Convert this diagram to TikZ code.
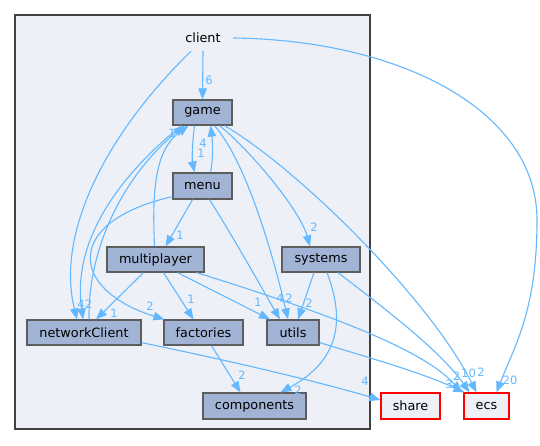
\documentclass[tikz,border=0pt]{standalone}
\usepackage{fontspec}
\setmainfont{DejaVu Sans}
\usetikzlibrary{arrows.meta}
\definecolor{edgec}{HTML}{63B8FF}
\definecolor{nodefill}{HTML}{A2B4D6}
\definecolor{clusterfill}{HTML}{EDF0F7}
\definecolor{borderc}{HTML}{404040}
\tikzset{
  dirbox/.style={draw=borderc!85!white, line width=1.2pt, fill=nodefill, inner sep=0pt,
    font=\fontsize{12.8}{14}\selectfont, text=black},
  extbox/.style={draw=red, line width=1.2pt, fill=clusterfill, inner sep=0pt,
    font=\fontsize{12.8}{14}\selectfont, text=black},
  edge/.style={draw=edgec, line width=1.1pt, -{Triangle[length=11pt,width=8.5pt]}},
  lab/.style={text=edgec, inner sep=0pt, font=\fontsize{11.5}{11.5}\selectfont}
}
\begin{document}
\begin{tikzpicture}[x=1pt,y=-1pt]
\useasboundingbox (0,0) rectangle (540,445);
\fill[white] (0,0) rectangle (540,445);
\draw[line width=2pt, draw=borderc, fill=clusterfill] (15,15) rectangle (370,429);

% nodes
\node[inner sep=0pt, minimum width=60pt, minimum height=26pt, font=\fontsize{12.8}{14}\selectfont] (client) at (203,38) {client};
\node[dirbox, minimum width=59pt, minimum height=25pt] (game) at (202.5,112.5) {game};
\node[dirbox, minimum width=59pt, minimum height=26pt] (menu) at (202.5,186) {menu};
\node[dirbox, minimum width=97pt, minimum height=25pt] (multiplayer) at (155.5,259.5) {multiplayer};
\node[dirbox, minimum width=78pt, minimum height=25pt] (systems) at (321,259.5) {systems};
\node[dirbox, minimum width=114pt, minimum height=25pt] (networkClient) at (84,332.5) {networkClient};
\node[dirbox, minimum width=79pt, minimum height=25pt] (factories) at (203.5,332.5) {factories};
\node[dirbox, minimum width=52pt, minimum height=25pt] (utils) at (293,332.5) {utils};
\node[dirbox, minimum width=103pt, minimum height=26pt] (components) at (254.5,406) {components};
\node[extbox, minimum width=59pt, minimum height=26pt] (share) at (410.5,406) {share};
\node[extbox, minimum width=45pt, minimum height=26pt] (ecs) at (486.5,406) {ecs};

% edges
\draw[edge] (client.south) -- (game.north);
\draw[edge] ([xshift=-12pt]client.south) .. controls (110,130) and (55,230) .. ([xshift=-7pt]networkClient.north);
\draw[edge] ([xshift=-21pt]game.south) .. controls (120,175) and (72,240) .. ([xshift=-1pt]networkClient.north);
\draw[edge] ([xshift=5pt]networkClient.north) .. controls (88,240) and (130,170) .. ([xshift=-18pt]game.south);
\draw[edge] ([xshift=-1pt]multiplayer.north) .. controls (152,190) and (155,150) .. ([xshift=-14pt]game.south);
\draw[edge] ([xshift=-8pt]game.south) .. controls (192,145) and (192,160) .. ([xshift=-8pt]menu.north);
\draw[edge] ([xshift=8pt]menu.north) .. controls (213,160) and (213,145) .. ([xshift=8pt]game.south);
\draw[edge] ([xshift=-10pt]menu.south) -- ([xshift=10pt]multiplayer.north);
\draw[edge] ([yshift=3pt]menu.south west) .. controls (62,222) and (70,290) .. ([xshift=1pt]factories.north west);
\draw[edge] ([xshift=7pt]menu.south) .. controls (235,240) and (260,285) .. ([xshift=-13pt]utils.north);
\draw[edge] ([xshift=12pt]game.south) .. controls (245,160) and (272,250) .. ([xshift=-5pt]utils.north);
\draw[edge] ([xshift=17pt]game.south) .. controls (250,150) and (300,210) .. ([xshift=-11pt]systems.north);
\draw[edge] ([xshift=22pt]game.south) .. controls (300,170) and (430,300) .. ([xshift=-10pt]ecs.north);
\draw[edge] ([xshift=-12pt]multiplayer.south) -- ([xshift=12pt]networkClient.north);
\draw[edge] ([xshift=8pt]multiplayer.south) -- ([xshift=-10pt]factories.north);
\draw[edge] ([xshift=22pt]multiplayer.south) -- ([xshift=-23pt]utils.north);
\draw[edge] ([xshift=-8pt]multiplayer.south east) .. controls (300,305) and (420,345) .. ([xshift=-25pt]ecs.north);
\draw[edge] ([xshift=-7pt]systems.south) -- ([xshift=5pt]utils.north);
\draw[edge] ([xshift=6pt]systems.south) .. controls (345,320) and (340,360) .. ([xshift=26pt]components.north);
\draw[edge] ([xshift=17pt]systems.south) .. controls (380,305) and (440,350) .. ([xshift=-17pt]ecs.north);
\draw[edge] ([yshift=3pt]utils.south east) .. controls (370,358) and (420,372) .. ([xshift=1pt]ecs.north west);
\draw[edge] ([yshift=3pt]networkClient.south east) .. controls (250,365) and (330,385) .. ([yshift=6pt]share.west);
\draw[edge] ([xshift=8pt]factories.south) -- ([xshift=-14pt]components.north);
\draw[edge] (client.east) .. controls (400,40) and (537,110) .. (537,220) .. controls (537,310) and (515,345) .. ([xshift=10pt]ecs.north);

% labels
\node[lab] (l1) at (209,80) {6};
\node[lab] (l2) at (81,304) {4};
\node[lab] (l3) at (88.5,304) {2};
\node[lab] (l4) at (172,133) {1};
\node[lab] (l5) at (203,143) {4};
\node[lab] (l6) at (201,153) {1};
\node[lab] (l7) at (180,235) {1};
\node[lab] (l8) at (150,306) {2};
\node[lab] (l9) at (280,298) {4};
\node[lab] (l10) at (289,298) {2};
\node[lab] (l11) at (314,227) {2};
\node[lab] (l12) at (114,313) {1};
\node[lab] (l13) at (191,299) {1};
\node[lab] (l14) at (258,302) {1};
\node[lab] (l15) at (309,303) {2};
\node[lab] (l16) at (298,390) {2};
\node[lab] (l17) at (242,375) {2};
\node[lab] (l18) at (365,381) {4};
\node[lab] (l19) at (449,384) {3};
\node[lab] (l20) at (456.5,376) {2};
\node[lab] (l21) at (468.5,373) {10};
\node[lab] (l22) at (481,372) {2};
\node[lab] (l23) at (510,380) {20};
\end{tikzpicture}
\end{document}
